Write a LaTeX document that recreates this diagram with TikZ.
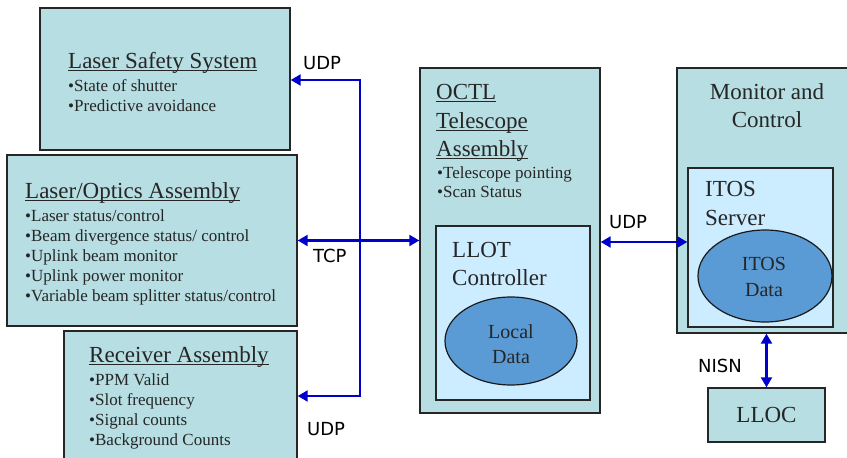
\documentclass[tikz,border=0pt]{standalone}
\usepackage{fontspec}
\setmainfont{Liberation Serif}
\newfontfamily\lblfont{DejaVu Sans}
\usetikzlibrary{arrows.meta,shapes.geometric}

\definecolor{boxfill}{RGB}{183,222,226}
\definecolor{innerfill}{RGB}{204,236,255}
\definecolor{datafill}{RGB}{91,155,213}
\definecolor{linkblue}{RGB}{0,0,204}
\definecolor{txt}{RGB}{38,38,38}

% underline that sits just under the baseline
\newcommand{\ulin}[1]{\setbox0=\hbox{#1}\rlap{\rule[-2.8pt]{\wd0}{0.9pt}}\box0}

\tikzset{
  box/.style={draw=black!85, line width=1.4pt, fill=boxfill, inner sep=0pt},
  inbox/.style={draw=black!85, line width=1.4pt, fill=innerfill, inner sep=0pt},
  store/.style={ellipse, draw=black!90, line width=1.2pt, fill=datafill, inner sep=0pt},
  head/.style={anchor=base west, inner sep=0pt, text=txt, font=\rmfamily\fontsize{23}{28}\selectfont},
  smallhead/.style={head, anchor=base, font=\rmfamily\fontsize{20}{24}\selectfont},
  item/.style={anchor=base west, inner sep=0pt, text=txt, font=\rmfamily\fontsize{17}{20}\selectfont},
  link/.style={draw=linkblue, line width=2.2pt},
  proto/.style={anchor=base west, inner sep=0pt, font=\lblfont\fontsize{18}{22}\selectfont}
}

\begin{document}
\begin{tikzpicture}[x=1pt,y=-1pt,>={Triangle[length=10pt,width=11pt]}]
\clip (0,0) rectangle (847,458);

% boxes
\node[box, minimum width=250pt, minimum height=142pt] (lss) at (165,79) {};
\node[box, minimum width=290pt, minimum height=171pt] (loa) at (152,240.5) {};
\node[box, minimum width=233pt, minimum height=131pt] (rca) at (180.5,396.5) {};
\node[box, minimum width=180pt, minimum height=345pt] (octl) at (510,240.5) {};
\node[inbox, minimum width=154pt, minimum height=174pt] (llot) at (513,313) {};
\node[store, minimum width=132pt, minimum height=88pt] (local) at (511,341) {};
\node[box, minimum width=183pt, minimum height=265pt] (mc) at (768.5,200.5) {};
\node[inbox, minimum width=145pt, minimum height=159pt] (itos) at (760.5,247.5) {};
\node[store, minimum width=134pt, minimum height=92pt] (itosdata) at (765,276) {};
\node[box, minimum width=117pt, minimum height=54pt, text=txt, font=\rmfamily\fontsize{23}{28}\selectfont] (lloc) at (766.5,415) {LLOC};

% Laser Safety System
\node[head] (lssTitle) at (68,68) {\ulin{Laser Safety System}};
\foreach \t [count=\i] in {State of shutter, Predictive avoidance}
  \node[item] (lssItem\i) at (68,71+20*\i) {•\t};

% Laser/Optics Assembly
\node[head] (loaTitle) at (25,198) {\ulin{Laser/Optics Assembly}};
\foreach \t [count=\i] in {Laser status/control, Beam divergence status/ control,
    Uplink beam monitor, Uplink power monitor, Variable beam splitter status/control}
  \node[item] (loaItem\i) at (25,200.8+20.2*\i) {•\t};

% Receiver Assembly
\node[head] (rcaTitle) at (89,362.5) {\ulin{Receiver Assembly}};
\foreach \t [count=\i] in {PPM Valid, Slot frequency, Signal counts, Background Counts}
  \node[item] (rcaItem\i) at (89,364.7+20.3*\i) {•\t};

% OCTL Telescope Assembly
\node[head] (octlTitleA) at (436,99) {\ulin{OCTL}};
\node[head] (octlTitleB) at (436,128) {\ulin{Telescope}};
\node[head] (octlTitleC) at (436,156.5) {\ulin{Assembly}};
\foreach \t [count=\i] in {Telescope pointing, Scan Status}
  \node[item] (octlItem\i) at (437,159+19*\i) {•\t};
\node[head] (llotA) at (452,257) {LLOT};
\node[head] (llotB) at (452,285) {Controller};
\node[smallhead] (localA) at (511,338) {Local};
\node[smallhead] (localB) at (511,363) {Data};

% Monitor and Control
\node[head, anchor=base] (mcA) at (767,99) {Monitor and};
\node[head, anchor=base] (mcB) at (767,127) {Control};
\node[head] (itosA) at (705,196.7) {ITOS};
\node[head] (itosB) at (705,225) {Server};
\node[smallhead] (itosDataA) at (764,270) {ITOS};
\node[smallhead] (itosDataB) at (764,296.7) {Data};

% links
\coordinate (busTop) at (360,80);
\coordinate (busBot) at (360,396);
\draw[link,<->] (busTop -| lss.east) -- (busTop) -- (busBot) -- (busBot -| rca.east);
\draw[link,<->] (loa.east) -- (loa.east -| octl.west);
\coordinate (udpLvl) at (640,242);
\draw[link,<->] (udpLvl -| octl.east) -- (udpLvl -| itos.west);
\draw[link,<->] (lloc.north |- mc.south) -- (lloc.north);

\node[proto] (udpA) at (303,69) {UDP};
\node[proto] (tcp) at (313,262) {TCP};
\node[proto] (udpB) at (307,435) {UDP};
\node[proto] (udpC) at (609,228) {UDP};
\node[proto] (nisn) at (698,372) {NISN};
\end{tikzpicture}
\end{document}
